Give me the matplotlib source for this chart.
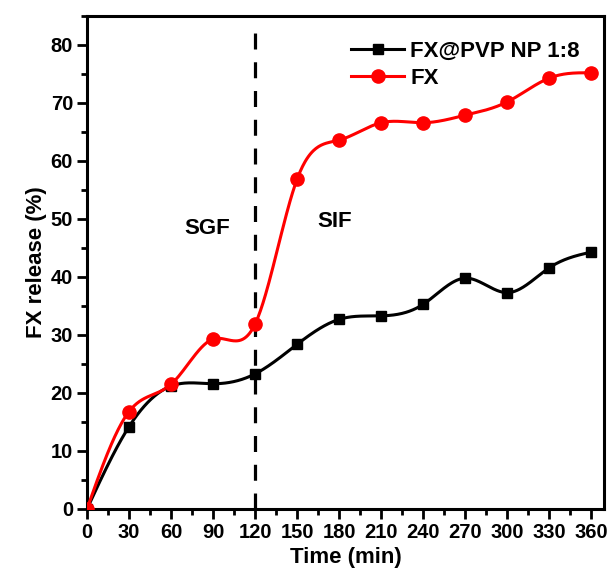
import numpy as np
import matplotlib
matplotlib.use("Agg")
import matplotlib.pyplot as plt
from matplotlib.ticker import MultipleLocator

plt.rcParams['font.family'] = ['Liberation Sans', 'DejaVu Sans']
plt.rcParams['font.weight'] = 'bold'

time_min = [0, 30, 60, 90, 120, 150, 180, 210, 240, 270, 300, 330, 360]
fx_pvp = [0, 14.2, 21.2, 21.6, 23.3, 28.4, 32.7, 33.3, 35.3, 39.8, 37.3, 41.6, 44.3]
fx = [0, 16.8, 21.5, 29.3, 31.9, 56.9, 63.6, 66.6, 66.6, 67.9, 70.2, 74.3, 75.2]


def natural_spline(x, y, n=600):
    # plain natural cubic spline, only used to draw the smooth connecting line
    x = np.asarray(x, float)
    y = np.asarray(y, float)
    h = np.diff(x)
    m = len(x)
    A = np.zeros((m, m))
    b = np.zeros(m)
    A[0, 0] = A[-1, -1] = 1
    for i in range(1, m - 1):
        A[i, i - 1] = h[i - 1]
        A[i, i] = 2 * (h[i - 1] + h[i])
        A[i, i + 1] = h[i]
        b[i] = 6 * ((y[i + 1] - y[i]) / h[i] - (y[i] - y[i - 1]) / h[i - 1])
    M = np.linalg.solve(A, b)
    xs = np.linspace(x[0], x[-1], n)
    idx = np.clip(np.searchsorted(x, xs) - 1, 0, m - 2)
    x0, x1 = x[idx], x[idx + 1]
    hh = x1 - x0
    t0, t1 = x1 - xs, xs - x0
    ys = (M[idx] * t0 ** 3 + M[idx + 1] * t1 ** 3) / (6 * hh) \
        + (y[idx] / hh - M[idx] * hh / 6) * t0 \
        + (y[idx + 1] / hh - M[idx + 1] * hh / 6) * t1
    return xs, ys


fig = plt.figure(figsize=(6.09, 5.75), dpi=100)
ax = fig.add_axes([87 / 609, 1 - 509 / 575, (604 - 87) / 609, (509 - 16) / 575])

for ys, color, marker, ms, label in [
    (fx_pvp, 'black', 's', 7.2, 'FX@PVP NP 1:8'),
    (fx, '#ff0000', 'o', 9.5, 'FX'),
]:
    sx, sy = natural_spline(time_min, ys)
    ax.plot(sx, sy, color=color, lw=2.2, zorder=3)
    ax.plot(time_min, ys, ls='none', marker=marker, ms=ms, color=color, zorder=4)
    ax.plot([], [], color=color, lw=2.2, marker=marker, ms=ms, label=label)

ax.plot([120, 120], [0, 83], color='black', lw=2.3, ls=(0, (5, 4)), zorder=2)
ax.text(85.7, 48.3, 'SGF', fontsize=16, fontweight='bold', ha='center', va='center')
ax.text(176.8, 49.5, 'SIF', fontsize=16, fontweight='bold', ha='center', va='center')

ax.set_xlim(0, 369)
ax.set_ylim(0, 85)
ax.xaxis.set_major_locator(MultipleLocator(30))
ax.xaxis.set_minor_locator(MultipleLocator(15))
ax.yaxis.set_major_locator(MultipleLocator(10))
ax.yaxis.set_minor_locator(MultipleLocator(5))
ax.tick_params(which='major', direction='out', length=7, width=2, labelsize=14.5, pad=3)
ax.tick_params(which='minor', direction='out', length=4.3, width=2)
for lab in ax.get_xticklabels() + ax.get_yticklabels():
    lab.set_fontweight('bold')
for sp in ax.spines.values():
    sp.set_linewidth(2.2)

ax.set_xlabel('Time (min)', fontsize=16, fontweight='bold', labelpad=4)
ax.set_ylabel('FX release (%)', fontsize=16, fontweight='bold', labelpad=3)

leg = ax.legend(loc='upper right', frameon=False, handlelength=2.4,
                handletextpad=0.25, labelspacing=0.3, borderaxespad=0.7,
                prop={'weight': 'bold', 'size': 16})

fig.savefig('out.png', dpi=100)
